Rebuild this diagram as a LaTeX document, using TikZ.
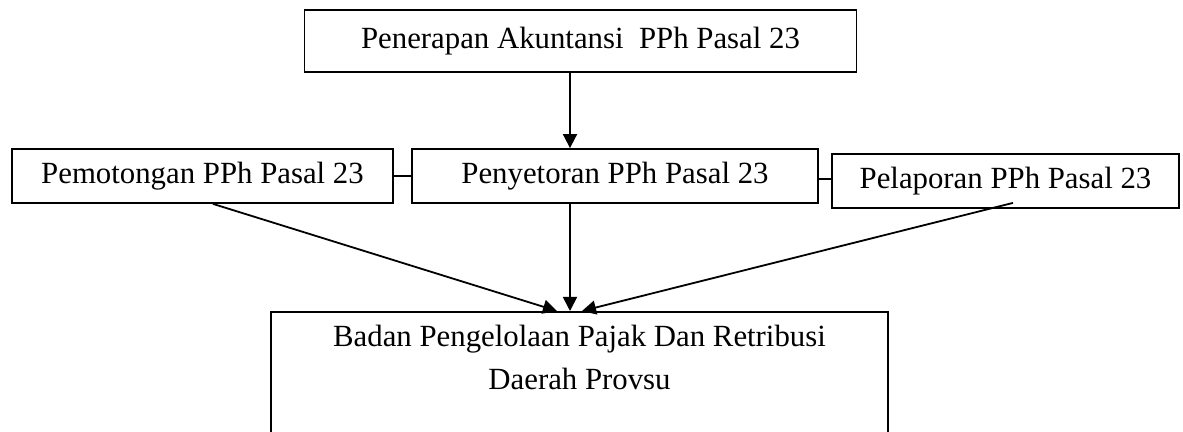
\documentclass[tikz,border=0pt]{standalone}
\usepackage{fontspec}
\setmainfont{Liberation Serif}
\usetikzlibrary{arrows.meta,positioning}

\begin{document}
\begin{tikzpicture}[x=0.5pt, y=-0.5pt,
    box/.style={draw, line width=0.9pt, inner sep=0pt, font=\fontsize{15.4}{21.5}\selectfont},
    arr/.style={-{Triangle[length=7pt,width=7pt]}, line width=0.9pt}]
            \useasboundingbox (0,0) rectangle (1183,432);
            \node[box, minimum width=276pt, minimum height=31pt] (A) at (580.5,41) {Penerapan Akuntansi~~PPh Pasal 23};
            \node[box, minimum width=190.5pt, minimum height=27pt] (B) at (202.5,176) {Pemotongan PPh Pasal 23};
            \node[box, minimum width=203pt, minimum height=27pt] (C) at (615,176) {Penyetoran PPh Pasal 23};
            \node[box, minimum width=173.5pt, minimum height=27pt] (D) at (1005.5,181) {Pelaporan PPh Pasal 23};
            \node[box, anchor=north, minimum width=308.5pt, align=center, inner sep=6.75pt, text depth=70pt] (E) at (579.5,311) {Badan Pengelolaan Pajak Dan Retribusi\\Daerah Provsu};
            \draw[arr] ([xshift=-5.25pt]A.south) -- ([xshift=-5.25pt]A.south |- C.north);
            \draw[line width=0.9pt] (B) -- (C);
            \draw[line width=0.9pt] ([yshift=-1.5pt]C.east) -- ([yshift=-1.5pt]C.east -| D.west);
            \draw[arr] ([xshift=5.25pt]B.south) -- ([xshift=-11.25pt]E.north);
            \draw[arr] ([xshift=-22.5pt]C.south) -- ([xshift=-4.75pt]E.north);
            \draw[arr] ([xshift=3.75pt,yshift=3pt]D.south) -- ([xshift=1.25pt]E.north);
        \end{tikzpicture}
\end{document}
